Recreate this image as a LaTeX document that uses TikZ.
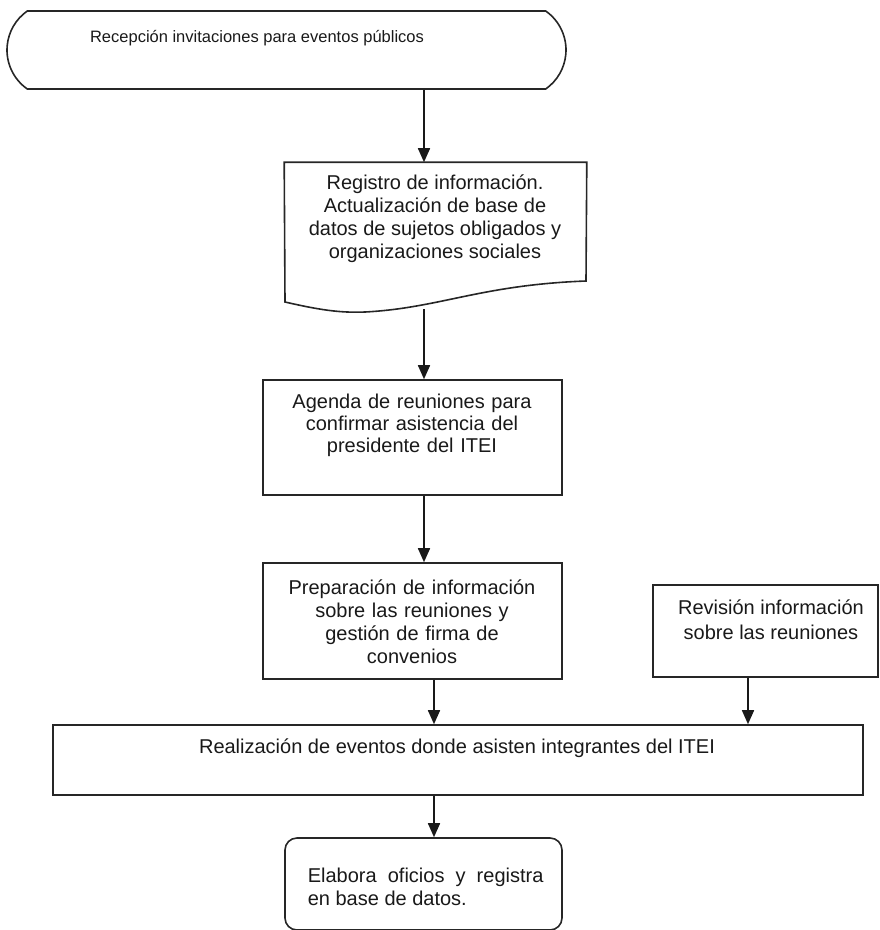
\documentclass[tikz,border=0pt]{standalone}
\usepackage{fontspec}
\setmainfont{Liberation Sans}
\usetikzlibrary{arrows.meta,shapes.misc}
\begin{document}
\begin{tikzpicture}[x=1pt,y=-1pt,
  line width=1.6pt,
  box/.style={draw=black!85, rectangle, inner sep=0pt},
  txt/.style={font=\fontsize{20}{23}\selectfont, align=center, inner sep=0pt, text=black!90},
  arr/.style={draw=black!90, -{Triangle[length=14pt,width=12pt]}}
]
\useasboundingbox (0,0) rectangle (880,930);

% start terminator
\node[draw=black!85, rounded rectangle, rounded rectangle arc length=110,
      minimum width=559pt, minimum height=78pt, inner sep=0pt] (term) at (286.5,50) {};
\node[txt, font=\fontsize{16.5}{20}\selectfont] (termt) at (257,38) {Recepción invitaciones para eventos públicos};

% document shape
\node[inner sep=0pt, minimum width=301pt, minimum height=140pt] (doc) at (435.5,233) {};
\draw[black!85] (doc.north west) -- (doc.north east) -- (586,281)
  .. controls (480,285) and (440,308) .. (365,312)
  .. controls (340,313) and (320,310) .. (285,302) -- cycle;
\node[txt] (doct) at (435,219) {Registro de información.\\Actualización de base de\\datos de sujetos obligados y\\organizaciones sociales};

% agenda
\node[box, minimum width=299pt, minimum height=115pt] (agenda) at (412.5,437.5) {};
\node[txt, text width=290pt, font=\fontsize{20}{22}\selectfont] (agendat) at (412,425) {Agenda de reuniones para\\confirmar asistencia del\\presidente del ITEI};

% preparacion
\node[box, minimum width=299pt, minimum height=116pt] (prep) at (412.5,621) {};
\node[txt, text width=290pt, font=\fontsize{20}{23}\selectfont] (prept) at (412,622) {Preparación de información\\sobre las reuniones y\\gestión de firma de\\convenios};

% revision
\node[box, minimum width=225pt, minimum height=92pt] (rev) at (765.5,631) {};
\node[txt, font=\fontsize{20}{25}\selectfont] (revt) at (771,619.5) {Revisión información\\sobre las reuniones};

% realizacion
\node[box, minimum width=810pt, minimum height=70pt] (real) at (458,760) {};
\node[txt] (realt) at (457,748) {Realización de eventos donde asisten integrantes del ITEI};

% elabora
\node[draw=black!85, rectangle, rounded corners=12pt, minimum width=277pt, minimum height=92pt] (elab) at (423.5,884) {};
\node[txt, anchor=west, align=left, font=\fontsize{20}{23}\selectfont] (elabt) at (307,886.5) {Elabora\ \ oficios\ \ y\ \ registra\\en base de datos.};

% connector columns
\coordinate (c1) at (424,0);
\coordinate (c2) at (434,0);
\coordinate (c3) at (748,0);
\coordinate (docb) at (424,309);

\draw[arr] (term.south -| c1) -- (doc.north -| c1);
\draw[arr] (docb) -- (agenda.north -| c1);
\draw[arr] (agenda.south -| c1) -- (prep.north -| c1);
\draw[arr] (prep.south -| c2) -- (real.north -| c2);
\draw[arr] (rev.south -| c3) -- (real.north -| c3);
\draw[arr] (real.south -| c2) -- (elab.north -| c2);
\end{tikzpicture}
\end{document}
